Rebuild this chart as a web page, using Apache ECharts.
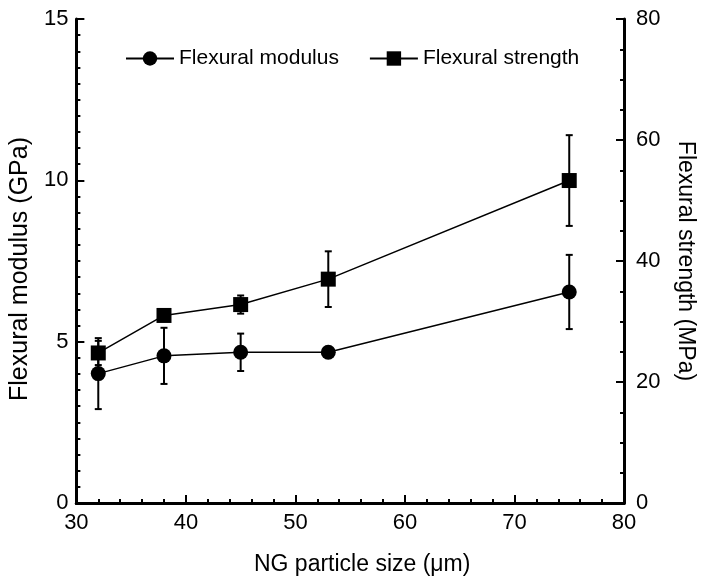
<!DOCTYPE html>
<html>
<head>
<meta charset="utf-8">
<script src="https://cdn.jsdelivr.net/npm/echarts@6/dist/echarts.min.js"></script>
<style>html,body{margin:0;padding:0;background:#fff}#c{width:705px;height:581px}</style>
</head>
<body>
<div id="c"></div>
<script>
const particleSize = [32, 38, 45, 53, 75];
const modulus = [4.01, 4.56, 4.67, 4.67, 6.54];
const modulusErr = [1.10, 0.87, 0.58, 0, 1.15];
const strength = [24.8, 31.0, 32.8, 37.0, 53.3];
const strengthErr = [2.0, 0, 1.5, 4.6, 7.5];
const xTicks = [30, 40, 50, 60, 70, 80];
const modulusTicks = [0, 5, 10, 15];
const strengthTicks = [0, 20, 40, 60, 80];

const FONT = "'Liberation Sans', Arial, sans-serif";
const chart = echarts.init(document.getElementById('c'), null, {renderer: 'canvas'});

function errRender(params, api) {
  const x = api.value(0), y = api.value(1), e = api.value(2);
  if (!e) return null;
  const t = api.coord([x, y + e]);
  const b = api.coord([x, y - e]);
  const hw = 3.5;
  const st = {stroke: '#000', lineWidth: 2};
  return {type: 'group', children: [
    {type: 'line', shape: {x1: t[0], y1: t[1], x2: b[0], y2: b[1]}, style: st},
    {type: 'line', shape: {x1: t[0] - hw, y1: t[1], x2: t[0] + hw, y2: t[1]}, style: st},
    {type: 'line', shape: {x1: b[0] - hw, y1: b[1], x2: b[0] + hw, y2: b[1]}, style: st}
  ]};
}

const axisCommon = {
  axisLine: {show: true, lineStyle: {color: '#000', width: 3}},
  axisTick: {show: true, inside: true, length: 8, lineStyle: {color: '#000', width: 2}},
  minorTick: {show: true, length: 4, lineStyle: {color: '#000', width: 2}},
  splitLine: {show: false},
  axisLabel: {color: '#000', fontSize: 22, fontFamily: FONT},
  nameTextStyle: {color: '#000', fontSize: 23, fontFamily: FONT},
  nameLocation: 'middle'
};

const option = {
  animation: false,
  backgroundColor: '#fff',
  textStyle: {fontFamily: FONT},
  grid: {left: 75, right: 73, top: 19, bottom: 78},
  legend: {
    data: ['Flexural modulus', 'Flexural strength'],
    left: 120, top: 43,
    itemWidth: 48, itemHeight: 18, itemGap: 30,
    lineStyle: {width: 2},
    textStyle: {color: '#000', fontSize: 21, fontFamily: FONT}
  },
  xAxis: [
    Object.assign({}, axisCommon, {
      type: 'value', min: xTicks[0], max: xTicks[xTicks.length - 1], interval: 10,
      minorTick: Object.assign({}, axisCommon.minorTick, {splitNumber: 5}),
      axisLabel: Object.assign({}, axisCommon.axisLabel, {margin: 9}),
      name: 'NG particle size (\u03bcm)', nameGap: 50,
      nameTextStyle: {color: '#000', fontSize: 23, fontFamily: FONT, padding: [0, 0, 0, 24]}
    }),
    {
      type: 'value', position: 'top', min: 30, max: 80,
      axisLine: {show: true, lineStyle: {color: '#000', width: 3}},
      axisTick: {show: false}, axisLabel: {show: false}, splitLine: {show: false}
    }
  ],
  yAxis: [
    Object.assign({}, axisCommon, {
      type: 'value', position: 'left', min: modulusTicks[0], max: modulusTicks[modulusTicks.length - 1], interval: 5,
      minorTick: Object.assign({}, axisCommon.minorTick, {splitNumber: 10}),
      axisLabel: Object.assign({}, axisCommon.axisLabel, {margin: 8}),
      name: 'Flexural modulus (GPa)', nameGap: 42,
      nameTextStyle: {color: '#000', fontSize: 25, fontFamily: FONT, padding: [0, 16, 0, 0]}
    }),
    Object.assign({}, axisCommon, {
      type: 'value', position: 'right', min: strengthTicks[0], max: strengthTicks[strengthTicks.length - 1], interval: 20,
      minorTick: Object.assign({}, axisCommon.minorTick, {splitNumber: 4}),
      axisLabel: Object.assign({}, axisCommon.axisLabel, {margin: 12}),
      name: 'Flexural strength (MPa)', nameGap: 50, nameRotate: -90
    })
  ],
  series: [
    {
      type: 'custom', name: 'modErr', xAxisIndex: 0, yAxisIndex: 0, z: 1,
      renderItem: errRender, encode: {x: 0, y: 1},
      data: particleSize.map((x, i) => [x, modulus[i], modulusErr[i]])
    },
    {
      type: 'custom', name: 'strErr', xAxisIndex: 0, yAxisIndex: 1, z: 1,
      renderItem: errRender, encode: {x: 0, y: 1},
      data: particleSize.map((x, i) => [x, strength[i], strengthErr[i]])
    },
    {
      type: 'line', name: 'Flexural modulus', xAxisIndex: 0, yAxisIndex: 0, z: 3,
      symbol: 'circle', symbolSize: 15,
      itemStyle: {color: '#000'}, lineStyle: {color: '#000', width: 1.5},
      data: particleSize.map((x, i) => [x, modulus[i]])
    },
    {
      type: 'line', name: 'Flexural strength', xAxisIndex: 0, yAxisIndex: 1, z: 3,
      symbol: 'rect', symbolSize: 15,
      itemStyle: {color: '#000'}, lineStyle: {color: '#000', width: 1.5},
      data: particleSize.map((x, i) => [x, strength[i]])
    }
  ]
};
chart.setOption(option);
</script>
</body>
</html>
